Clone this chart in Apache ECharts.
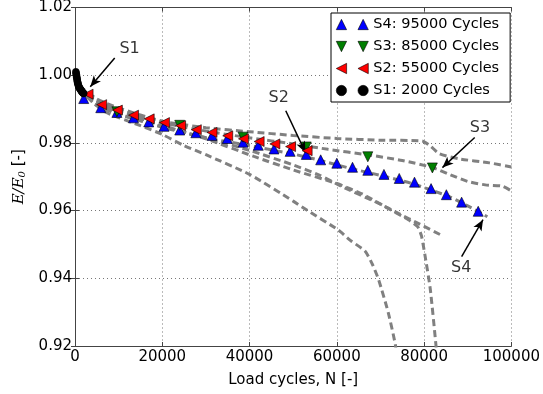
<!DOCTYPE html>
<html>
<head>
<meta charset="utf-8">
<script src="https://cdn.jsdelivr.net/npm/echarts@6/dist/echarts.min.js"></script>
<style>
  html, body { margin: 0; padding: 0; background: #fff; }
  #chart { width: 543px; height: 394px; }
</style>
</head>
<body>
<div id="chart"></div>
<script>
// 坐标轴刻度
var xTicks = [0, 20000, 40000, 60000, 80000, 100000];
var yTicks = [0.92, 0.94, 0.96, 0.98, 1.00, 1.02];

// S4: 95000 Cycles (蓝色上三角)
var s4Cycles = [2000, 5900, 9600, 13400, 16900, 20400, 24000, 27700, 31400, 34900, 38500, 42000, 45600,
    49300, 53000, 56300, 60000, 63600, 67100, 70800, 74300, 77800, 81600, 85100, 88600, 92400];
var s4Values = [0.9931, 0.9904, 0.9890, 0.9874, 0.9862, 0.9849, 0.9838, 0.9830, 0.9822, 0.9813, 0.9802, 0.9793, 0.9782,
    0.9775, 0.9766, 0.9750, 0.9740, 0.9728, 0.9719, 0.9707, 0.9695, 0.9684, 0.9665, 0.9647, 0.9625, 0.9598];

// S3: 85000 Cycles (绿色下三角)
var s3Cycles = [9600, 24000, 38500, 53000, 67100, 81900];
var s3Values = [0.9892, 0.9852, 0.9817, 0.9788, 0.9759, 0.9726];

// S2: 55000 Cycles (红色左三角)
var s2Cycles = [3000, 6100, 9700, 13400, 17000, 20500, 24200, 27800, 31400, 35000, 38600, 42200, 45800, 49400, 53200];
var s2Values = [0.9944, 0.9913, 0.9897, 0.9882, 0.9871, 0.9860, 0.9851, 0.9839, 0.9831, 0.9821, 0.9812, 0.9804,
    0.9797, 0.9789, 0.9777];

// S1: 2000 Cycles (黑色圆点)
var s1Cycles = [200, 250, 300, 350, 400, 450, 500, 550, 600, 650, 700, 800, 900, 1000, 1100, 1200, 1300, 1400,
    1500, 1600, 1700, 1800, 1900, 2000];
var s1Values = [1.0010, 1.0006, 1.0002, 0.9998, 0.9994, 0.9990, 0.9986, 0.9982, 0.9979, 0.9976, 0.9973, 0.9969,
    0.9966, 0.9963, 0.9961, 0.9959, 0.9957, 0.9955, 0.9953, 0.9951, 0.9950, 0.9948, 0.9947, 0.9946];

// 灰色虚线(模型曲线) [cycles, E/E0]
var curveTop = [[1000, 0.9968], [5000, 0.9930], [10000, 0.9903], [20000, 0.9864], [30000, 0.9845], [40000, 0.9833],
    [50000, 0.9822], [60000, 0.9813], [70000, 0.9808], [79500, 0.9806], [81500, 0.9790], [83500, 0.9768],
    [88000, 0.9753], [95000, 0.9741], [100000, 0.9729]];
var curveS3 = [[1000, 0.9966], [5000, 0.9925], [10000, 0.9898], [20000, 0.9860], [30000, 0.9835], [40000, 0.9815],
    [50000, 0.9797], [58000, 0.9781], [67000, 0.9765], [75000, 0.9748], [82000, 0.9727], [86000, 0.9706],
    [90000, 0.9686], [94000, 0.9676], [98000, 0.9672], [100000, 0.9658]];
var curveS4 = [[1000, 0.9960], [5000, 0.9910], [10000, 0.9885], [20000, 0.9846], [30000, 0.9815], [40000, 0.9792],
    [50000, 0.9767], [56000, 0.9749], [63000, 0.9725], [70000, 0.9704], [77000, 0.9681], [82000, 0.9659],
    [86000, 0.9640], [90000, 0.9614], [94500, 0.9582]];
var curveMid = [[1000, 0.9962], [5000, 0.9915], [10000, 0.9885], [20000, 0.9848], [30000, 0.9815], [40000, 0.9778],
    [50000, 0.9735], [56000, 0.9705], [61000, 0.9672], [69500, 0.9622], [74100, 0.9592], [79000, 0.9560],
    [84000, 0.9527]];
var curveDropA = [[1000, 0.9962], [5000, 0.9920], [10000, 0.9892], [20000, 0.9852], [30000, 0.9812], [41000, 0.9760],
    [50000, 0.9720], [60000, 0.9680], [66000, 0.9648], [72500, 0.9601], [76400, 0.9573], [78500, 0.9553],
    [79400, 0.9525], [80200, 0.9468], [81400, 0.9370], [82700, 0.9205], [82900, 0.9170]];
var curveDropB = [[1000, 0.9958], [6400, 0.9895], [10000, 0.9875], [15000, 0.9851], [20000, 0.9825], [25000, 0.9792],
    [30000, 0.9765], [40000, 0.9707], [50000, 0.9628], [53200, 0.9601], [60400, 0.9542], [63100, 0.9512],
    [66500, 0.9480], [68200, 0.9440], [69600, 0.9395], [71800, 0.9298], [73400, 0.9205], [73700, 0.9170]];

// 标注 S1~S4: 文字位置, 箭头起点, 箭头终点
var annoText = [[12500, 1.0079, 'S1'], [46700, 0.9933, 'S2'], [92800, 0.9845, 'S3'], [88500, 0.9430, 'S4']];
var annoFrom = [[9100, 1.0051], [48300, 0.9895], [91600, 0.9816], [88600, 0.9464]];
var annoTo = [[3500, 0.9966], [52800, 0.9772], [84200, 0.9727], [93500, 0.9573]];

function zip(xs, ys) {
    return xs.map(function (x, i) { return [x, ys[i]]; });
}

var myChart = echarts.init(document.getElementById('chart'), null, { renderer: 'canvas' });

var gridLine = { show: true, lineStyle: { color: '#777', type: [1, 3], width: 1 } };

var dashStyle = { color: '#808080', width: 3, type: [7, 4] };
function curveSeries(data) {
    return {
        type: 'line', data: data, showSymbol: false, smooth: 0.2, silent: true,
        lineStyle: dashStyle, z: 1
    };
}

var option = {
    animation: false,
    grid: { left: 75, right: 29, top: 6, bottom: 48 },
    legend: {
        data: ['S4: 95000 Cycles', 'S3: 85000 Cycles', 'S2: 55000 Cycles', 'S1: 2000 Cycles'],
        orient: 'vertical',
        left: 331, top: 13,
        padding: [4, 11, 4, 5],
        itemGap: 7,
        itemWidth: 32, itemHeight: 11,
        backgroundColor: '#fff',
        borderColor: '#000', borderWidth: 1, borderRadius: 0,
        textStyle: { fontFamily: 'DejaVu Sans', fontSize: 14.5, color: '#000' }
    },
    xAxis: [{
        type: 'value', min: 0, max: 100000, interval: 20000,
        name: 'Load cycles, N [-]', nameLocation: 'middle', nameGap: 27,
        nameTextStyle: { fontFamily: 'DejaVu Sans', fontSize: 15, color: '#000' },
        axisLine: { lineStyle: { color: '#444', width: 1 } },
        axisTick: { inside: true, length: 4, lineStyle: { color: '#444' } },
        axisLabel: {
            fontFamily: 'DejaVu Sans', fontSize: 15, color: '#000', margin: 4,
            formatter: function (v) { return String(v); }
        },
        splitLine: gridLine
    }, {
        type: 'value', min: 0, max: 100000, interval: 20000, position: 'top',
        axisLine: { lineStyle: { color: '#444', width: 1 } },
        axisTick: { inside: true, length: 4, lineStyle: { color: '#444' } },
        axisLabel: { show: false }, splitLine: { show: false }
    }],
    yAxis: [{
        type: 'value', min: 0.92, max: 1.02, interval: 0.02,
        name: '{i|E/E}{s|0}{n| [-]}', nameLocation: 'middle', nameGap: 42, nameRotate: 90,
        nameTextStyle: {
            rich: {
                i: { fontFamily: 'DejaVu Serif', fontStyle: 'italic', fontSize: 15, color: '#000' },
                s: { fontFamily: 'DejaVu Serif', fontStyle: 'italic', fontSize: 10, color: '#000', padding: [7, 0, 0, 0] },
                n: { fontFamily: 'DejaVu Sans', fontSize: 15, color: '#000' }
            }
        },
        axisLine: { show: true, lineStyle: { color: '#444', width: 1 } },
        axisTick: { show: true, inside: true, length: 4, lineStyle: { color: '#444' } },
        axisLabel: {
            fontFamily: 'DejaVu Sans', fontSize: 15, color: '#000', margin: 3,
            formatter: function (v) { return v.toFixed(2); }
        },
        splitLine: gridLine
    }, {
        type: 'value', min: 0.92, max: 1.02, interval: 0.02, position: 'right',
        axisLine: { show: true, lineStyle: { color: '#444', width: 1 } },
        axisTick: { show: true, inside: true, length: 4, lineStyle: { color: '#444' } },
        axisLabel: { show: false }, splitLine: { show: false }
    }],
    series: [
        curveSeries(curveTop),
        curveSeries(curveS3),
        curveSeries(curveS4),
        curveSeries(curveMid),
        curveSeries(curveDropA),
        curveSeries(curveDropB),
        {
            name: 'S4: 95000 Cycles', type: 'scatter', data: zip(s4Cycles, s4Values),
            symbol: 'triangle', symbolSize: [10, 10], z: 3,
            itemStyle: { color: '#0000ff', borderColor: '#000', borderWidth: 0.6, opacity: 1 }
        },
        {
            name: 'S3: 85000 Cycles', type: 'scatter', data: zip(s3Cycles, s3Values),
            symbol: 'triangle', symbolRotate: 180, symbolSize: [10, 10], z: 4,
            itemStyle: { color: '#007f00', borderColor: '#000', borderWidth: 0.6, opacity: 1 }
        },
        {
            name: 'S2: 55000 Cycles', type: 'scatter', data: zip(s2Cycles, s2Values),
            symbol: 'triangle', symbolRotate: 90, symbolSize: [10, 10], z: 5,
            itemStyle: { color: '#ff0000', borderColor: '#000', borderWidth: 0.6, opacity: 1 }
        },
        {
            name: 'S1: 2000 Cycles', type: 'scatter', data: zip(s1Cycles, s1Values),
            symbol: 'circle', symbolSize: 7, z: 6,
            itemStyle: { color: '#000', borderColor: '#000', borderWidth: 0.5, opacity: 1 }
        },
        {
            // 标注文字和箭头
            type: 'scatter', data: annoText, symbolSize: 0, silent: true, z: 8,
            label: {
                show: true, position: 'inside', formatter: function (p) { return p.value[2]; },
                fontFamily: 'DejaVu Sans', fontSize: 16, color: '#000'
            },
            markLine: {
                silent: true, symbol: ['none', 'arrow'], symbolSize: [7, 11], animation: false,
                label: { show: false },
                lineStyle: { color: '#000', width: 1.5, type: 'solid' },
                data: annoFrom.map(function (p, i) {
                    return [{ coord: p }, { coord: annoTo[i] }];
                })
            }
        }
    ]
};

// 图例图标画两个标记
var legendIcons = {
    'S4: 95000 Cycles': 'path://M0,10L5,0L10,10ZM21,10L26,0L31,10Z',
    'S3: 85000 Cycles': 'path://M0,0L5,10L10,0ZM21,0L26,10L31,0Z',
    'S2: 55000 Cycles': 'path://M0,5L10,0L10,10ZM21,5L31,0L31,10Z',
    'S1: 2000 Cycles': 'path://M0,5A5,5,0,1,0,10,5A5,5,0,1,0,0,5ZM21,5A5,5,0,1,0,31,5A5,5,0,1,0,21,5Z'
};
option.legend.data = option.legend.data.map(function (n) {
    return { name: n, icon: legendIcons[n], itemStyle: { borderColor: '#000', borderWidth: 0.6 } };
});

myChart.setOption(option);
</script>
</body>
</html>
